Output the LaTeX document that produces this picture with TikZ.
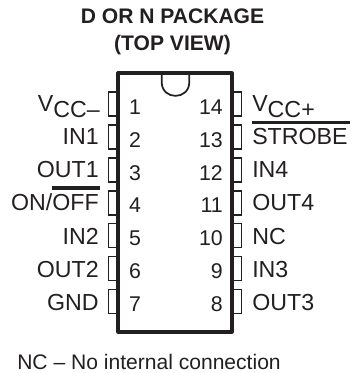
\documentclass[tikz,border=0pt]{standalone}
\usepackage{fontspec}
\setmainfont{Liberation Sans}
\usepackage{xcolor}
\definecolor{inkdark}{HTML}{231F20}
\tikzset{
  body/.style={line width=2.4pt,draw=inkdark,line join=round},
  notch/.style={line width=1.3pt,draw=inkdark},
  pinbox/.style={line width=1.3pt,draw=inkdark},
  overbar/.style={line width=2.4pt,draw=inkdark},
  pinname/.style={inner sep=0pt,text=inkdark,font=\fontsize{17.4pt}{20pt}\selectfont},
  leftname/.style={pinname,anchor=base east},
  rightname/.style={pinname,anchor=base west},
  pinnum/.style={inner sep=0pt,text=inkdark,font=\fontsize{16pt}{18pt}\selectfont},
  leftnum/.style={pinnum,anchor=base},
  rightnum/.style={pinnum,anchor=base east},
  heading/.style={inner sep=0pt,text=inkdark,font=\fontsize{15.8pt}{17pt}\selectfont\bfseries,anchor=base},
  footnote/.style={inner sep=0pt,text=inkdark,font=\fontsize{15.8pt}{19pt}\selectfont,anchor=base west}
}
\newcommand{\vcc}[1]{V\raisebox{-4.5pt}{CC#1}}
\begin{document}
\begin{tikzpicture}[x=0.75pt,y=-0.75pt]
    \useasboundingbox (0,0) rectangle (351,373);

    \node[heading] (title) at (172.5,23.5) {D OR N PACKAGE};
    \node[heading] (view) at (172.5,50.5) {(TOP VIEW)};

    \draw[body] (118,73) rectangle (232,332);
    \draw[notch] (161.7,73) -- (161.7,82) .. controls (161.7,100.5) and (189.3,100.5) .. (189.3,82) -- (189.3,73);

    \draw[pinbox] (118,92) -- (108.5,92) -- (108.5,116) -- (118,116);
    \draw[pinbox] (118,125) -- (108.5,125) -- (108.5,149) -- (118,149);
    \draw[pinbox] (118,158) -- (108.5,158) -- (108.5,182) -- (118,182);
    \draw[pinbox] (118,191) -- (108.5,191) -- (108.5,215) -- (118,215);
    \draw[pinbox] (118,223.5) -- (108.5,223.5) -- (108.5,247.5) -- (118,247.5);
    \draw[pinbox] (118,256.5) -- (108.5,256.5) -- (108.5,280.5) -- (118,280.5);
    \draw[pinbox] (118,289.5) -- (108.5,289.5) -- (108.5,313.5) -- (118,313.5);

    \draw[pinbox] (232,92) -- (241.5,92) -- (241.5,116) -- (232,116);
    \draw[pinbox] (232,125) -- (241.5,125) -- (241.5,149) -- (232,149);
    \draw[pinbox] (232,158) -- (241.5,158) -- (241.5,182) -- (232,182);
    \draw[pinbox] (232,191) -- (241.5,191) -- (241.5,215) -- (232,215);
    \draw[pinbox] (232,223.5) -- (241.5,223.5) -- (241.5,247.5) -- (232,247.5);
    \draw[pinbox] (232,256.5) -- (241.5,256.5) -- (241.5,280.5) -- (232,280.5);
    \draw[pinbox] (232,289.5) -- (241.5,289.5) -- (241.5,313.5) -- (232,313.5);

    \node[leftnum] (num1) at (135,115) {1};
    \node[leftnum] (num2) at (135,147.7) {2};
    \node[leftnum] (num3) at (135,180.4) {3};
    \node[leftnum] (num4) at (135,213) {4};
    \node[leftnum] (num5) at (135,245.8) {5};
    \node[leftnum] (num6) at (135,278.5) {6};
    \node[leftnum] (num7) at (135,311) {7};

    \node[rightnum] (num14) at (223,115) {14};
    \node[rightnum] (num13) at (223,147.7) {13};
    \node[rightnum] (num12) at (223,180.4) {12};
    \node[rightnum] (num11) at (223,213) {11};
    \node[rightnum] (num10) at (223,245.8) {10};
    \node[rightnum] (num9) at (223,278.5) {9};
    \node[rightnum] (num8) at (223,311) {8};

    \node[leftname] (vccm) at (100,112) {\vcc{–}};
    \node[leftname] (in1) at (99,145) {IN1};
    \node[leftname] (out1) at (99,178) {OUT1};
    \node[leftname] (onoff) at (99,211) {ON/OFF};
    \node[leftname] (in2) at (99,244) {IN2};
    \node[leftname] (out2) at (99,277) {OUT2};
    \node[leftname] (gnd) at (99,310) {GND};

    \node[rightname] (vccp) at (252,112) {\vcc{+}};
    \node[rightname] (strobe) at (252,145) {STROBE};
    \node[rightname] (in4) at (252,178) {IN4};
    \node[rightname] (out4) at (252,211) {OUT4};
    \node[rightname] (nc) at (252,244) {NC};
    \node[rightname] (in3) at (252,277) {IN3};
    \node[rightname] (out3) at (252,310) {OUT3};

    \draw[overbar] (52,188) -- (100,188);
    \draw[overbar] (252,122.7) -- (350,122.7);

    \node[footnote] (note) at (17,369) {NC – No internal connection};
\end{tikzpicture}
\end{document}
